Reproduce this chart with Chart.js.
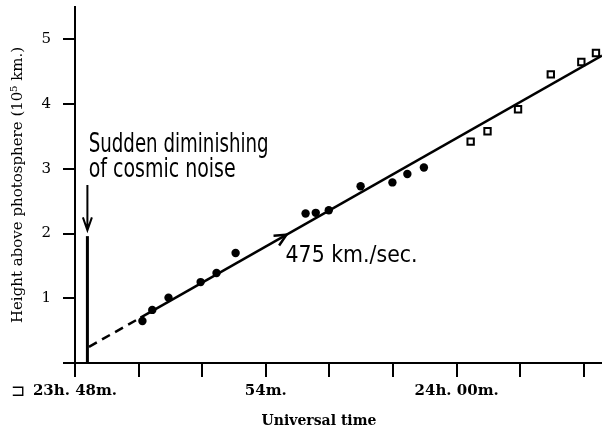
<!DOCTYPE html>
<html>
<head>
<meta charset="utf-8">
<script src="https://cdn.jsdelivr.net/npm/chart.js@4/dist/chart.umd.min.js"></script>
<style>
  html, body { margin: 0; padding: 0; background: #fff; }
  #chart { display: block; }
</style>
</head>
<body>
<canvas id="chart" width="602" height="433"></canvas>
<script>
// minutes after 23h 48m, height in 10^5 km
const circleTimes   = [2.12, 2.43, 2.94, 3.95, 4.45, 5.05, 7.25, 7.57, 7.98, 8.98, 9.98, 10.45, 10.97];
const circleHeights = [0.65, 0.82, 1.01, 1.25, 1.39, 1.70, 2.31, 2.32, 2.36, 2.73, 2.79, 2.92, 3.02];
const squareTimes   = [12.44, 12.97, 13.93, 14.96, 15.92, 16.38];
const squareHeights = [3.42, 3.58, 3.92, 4.46, 4.65, 4.79];

// fitted line: dashed extrapolation then solid
const fitTimes   = [0.44, 2.06, 16.57];
const fitHeights = [0.25, 0.70, 4.75];

const xTickValues = [0, 2, 4, 6, 8, 10, 12, 14, 16];
const xTickLabels = ['23h. 48m.', '', '', '54m.', '', '', '24h. 00m.', '', ''];
const yTickValues = [0, 1, 2, 3, 4, 5];
const yTickLabels = ['', '1', '2', '3', '4', '5'];

// onset of the noise drop, arrow on the fit line
const onsetTime = 0.39;
const onsetTop = 1.96;
const onsetArrow = [2.75, 2.05];
const speedArrowTime = 6.65;

function pts(xs, ys) {
    return xs.map((x, i) => ({ x: x, y: ys[i] }));
}

// draw text squeezed to a given width (handwritten labels are narrow)
function fitText(ctx, text, x, y, width) {
    const w = ctx.measureText(text).width;
    ctx.save();
    ctx.translate(x, y);
    ctx.scale(width / w, 1);
    ctx.fillText(text, 0, 0);
    ctx.restore();
}

const extras = {
    id: 'extras',
    afterDatasetsDraw(chart) {
        const ctx = chart.ctx;
        const xs = chart.scales.x, ys = chart.scales.y;
        ctx.save();
        ctx.strokeStyle = '#000';
        ctx.fillStyle = '#000';
        ctx.lineCap = 'butt';

        // vertical onset line
        const vx = xs.getPixelForValue(onsetTime);
        ctx.lineWidth = 3;
        ctx.beginPath();
        ctx.moveTo(vx, ys.getPixelForValue(0));
        ctx.lineTo(vx, ys.getPixelForValue(onsetTop));
        ctx.stroke();

        // downward arrow
        const a0 = ys.getPixelForValue(onsetArrow[0]);
        const a1 = ys.getPixelForValue(onsetArrow[1]);
        ctx.lineWidth = 2;
        ctx.beginPath();
        ctx.moveTo(vx, a0);
        ctx.lineTo(vx, a1);
        ctx.moveTo(vx - 4.5, a1 - 13);
        ctx.lineTo(vx, a1);
        ctx.lineTo(vx + 4.5, a1 - 13);
        ctx.stroke();

        // arrowhead on fit line
        const slope = (fitHeights[2] - fitHeights[1]) / (fitTimes[2] - fitTimes[1]);
        const tx = xs.getPixelForValue(speedArrowTime);
        const ty = ys.getPixelForValue(fitHeights[1] + slope * (speedArrowTime - fitTimes[1]));
        const bx = xs.getPixelForValue(speedArrowTime - 1);
        const by = ys.getPixelForValue(fitHeights[1] + slope * (speedArrowTime - 1 - fitTimes[1]));
        const ang = Math.atan2(ty - by, tx - bx);
        ctx.lineWidth = 2.5;
        ctx.beginPath();
        ctx.moveTo(tx - 13 * Math.cos(ang - 0.45), ty - 13 * Math.sin(ang - 0.45));
        ctx.lineTo(tx, ty);
        ctx.lineTo(tx - 13 * Math.cos(ang + 0.45), ty - 13 * Math.sin(ang + 0.45));
        ctx.stroke();

        // handwritten notes
        ctx.textBaseline = 'alphabetic';
        ctx.textAlign = 'left';
        ctx.font = '26px "DejaVu Sans"';
        fitText(ctx, 'Sudden diminishing', xs.getPixelForValue(0.43), ys.getPixelForValue(3.26), 180);
        fitText(ctx, 'of cosmic noise', xs.getPixelForValue(0.43), ys.getPixelForValue(2.87), 147);
        ctx.font = '23px "DejaVu Sans"';
        fitText(ctx, '475 km./sec.', xs.getPixelForValue(6.62), ys.getPixelForValue(1.56), 132);

        // x axis title
        ctx.textAlign = 'center';
        ctx.textBaseline = 'middle';
        ctx.font = 'bold 14px "DejaVu Serif"';
        ctx.fillText('Universal time', 319, 421);

        // small bracket mark at the lower left
        ctx.font = '17px "DejaVu Sans"';
        ctx.fillText('\u2290', 18, 392);
        ctx.restore();
    }
};

new Chart(document.getElementById('chart'), {
    type: 'scatter',
    data: {
        datasets: [{
            type: 'line',
            data: pts(fitTimes, fitHeights),
            borderColor: '#000',
            borderWidth: 2.5,
            pointRadius: 0,
            fill: false,
            tension: 0,
            clip: false,
            segment: {
                borderDash: c => c.p0DataIndex === 0 ? [9, 6] : undefined
            }
        }, {
            data: pts(circleTimes, circleHeights),
            pointStyle: 'circle',
            pointRadius: 4.2,
            backgroundColor: '#000',
            borderColor: '#000',
            borderWidth: 0
        }, {
            data: pts(squareTimes, squareHeights),
            pointStyle: 'rect',
            pointRadius: 4.5,
            backgroundColor: '#fff',
            borderColor: '#000',
            borderWidth: 2,
            clip: false
        }]
    },
    options: {
        responsive: false,
        animation: false,
        devicePixelRatio: 1,
        layout: { autoPadding: false, padding: { top: 7, right: 0, left: 0, bottom: 0 } },
        plugins: {
            legend: { display: false },
            tooltip: { enabled: false }
        },
        scales: {
            x: {
                type: 'linear',
                min: 0,
                max: 16.57,
                afterBuildTicks: s => { s.ticks = xTickValues.map(v => ({ value: v })); },
                afterFit: s => { s.height = 70; s.paddingLeft = 0; s.paddingRight = 0; },
                border: { display: true, color: '#000', width: 2 },
                grid: { drawOnChartArea: false, drawTicks: true, tickLength: 14, color: '#000', lineWidth: 2 },
                ticks: {
                    autoSkip: false,
                    maxRotation: 0,
                    padding: 5,
                    color: '#000',
                    font: { family: 'DejaVu Serif', size: 15, weight: 'bold' },
                    callback: (v, i) => xTickLabels[i]
                }
            },
            y: {
                type: 'linear',
                min: 0,
                max: 5.5,
                afterBuildTicks: s => { s.ticks = yTickValues.map(v => ({ value: v })); },
                afterFit: s => { s.width = 75; s.paddingTop = 0; s.paddingBottom = 0; },
                border: { display: true, color: '#000', width: 2 },
                grid: { drawOnChartArea: false, drawTicks: true, tickLength: 12, color: '#000', lineWidth: 2 },
                ticks: {
                    padding: 12,
                    color: '#000',
                    font: { family: 'DejaVu Serif', size: 15 },
                    callback: (v, i) => yTickLabels[i]
                },
                title: {
                    display: true,
                    text: 'Height above photosphere (10\u2075 km.)',
                    color: '#000',
                    font: { family: 'DejaVu Serif', size: 15 },
                    padding: { top: 9, bottom: 0 }
                }
            }
        }
    },
    plugins: [extras]
});
</script>
</body>
</html>
